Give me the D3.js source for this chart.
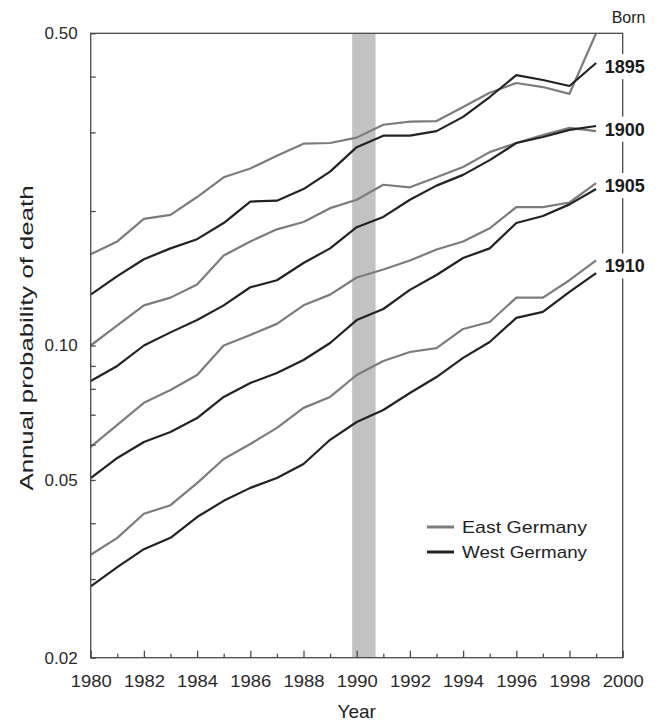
<!DOCTYPE html>
<html>
<head>
<meta charset="utf-8">
<script src="https://cdn.jsdelivr.net/npm/d3@7"></script>
<style>
  body { margin: 0; background: #fff; }
  svg { display: block; font-family: "Liberation Sans", Arial, sans-serif; }
</style>
</head>
<body>
<svg id="chart" width="664" height="724"></svg>
<script>

var years = [1980, 1981, 1982, 1983, 1984, 1985, 1986, 1987, 1988, 1989,
             1990, 1991, 1992, 1993, 1994, 1995, 1996, 1997, 1998, 1999];

// annual probability of death, by birth cohort
var east1895 = [0.160, 0.171, 0.192, 0.196, 0.215, 0.238, 0.249, 0.266, 0.283, 0.284,
                0.292, 0.312, 0.317, 0.318, 0.342, 0.368, 0.387, 0.379, 0.366, 0.500];
var west1895 = [0.130, 0.143, 0.156, 0.165, 0.173, 0.188, 0.210, 0.211, 0.224, 0.245,
                0.278, 0.295, 0.295, 0.302, 0.325, 0.360, 0.403, 0.393, 0.381, 0.429];
var east1900 = [0.100, 0.111, 0.123, 0.128, 0.137, 0.159, 0.171, 0.182, 0.189, 0.203,
                0.212, 0.229, 0.226, 0.238, 0.251, 0.271, 0.284, 0.296, 0.307, 0.302];
var west1900 = [0.0833, 0.090, 0.100, 0.107, 0.114, 0.123, 0.135, 0.140, 0.153, 0.165,
                0.184, 0.194, 0.212, 0.228, 0.241, 0.260, 0.284, 0.293, 0.304, 0.310];
var east1905 = [0.0593, 0.0664, 0.0744, 0.0795, 0.0859, 0.100, 0.1056, 0.1118, 0.123, 0.130,
                0.142, 0.148, 0.155, 0.164, 0.171, 0.183, 0.204, 0.204, 0.209, 0.231];
var west1905 = [0.0505, 0.0560, 0.0608, 0.0640, 0.0688, 0.0767, 0.0824, 0.0868, 0.0928, 0.1013,
                0.114, 0.1207, 0.1332, 0.1438, 0.157, 0.165, 0.188, 0.195, 0.207, 0.224];
var east1910 = [0.0340, 0.0371, 0.0420, 0.0439, 0.0492, 0.0557, 0.0602, 0.0654, 0.0725, 0.0767,
                0.0859, 0.0923, 0.0967, 0.0987, 0.1089, 0.1129, 0.128, 0.128, 0.140, 0.155];
var west1910 = [0.0289, 0.0319, 0.0350, 0.0371, 0.0413, 0.0449, 0.0480, 0.0505, 0.0543, 0.0615,
                0.0674, 0.0717, 0.0783, 0.0850, 0.0938, 0.1018, 0.1153, 0.1189, 0.1318, 0.1453];

var cohorts = ["1895", "1900", "1905", "1910"];
var cohortLabelAt = [0.421, 0.305, 0.228, 0.1507];

var yLabelled = [0.02, 0.05, 0.10, 0.50];
var yMinor = [0.03, 0.04, 0.06, 0.07, 0.08, 0.09, 0.2, 0.3, 0.4];
var xLabelled = [1980, 1982, 1984, 1986, 1988, 1990, 1992, 1994, 1996, 1998, 2000];
var xMinor = [1981, 1983, 1985, 1987, 1989, 1991, 1993, 1995, 1997, 1999];

var reunification = [1989.83, 1990.71];

var eastColor = "#7c7c7c";
var westColor = "#222222";

var svg = d3.select("#chart");
var margin = { top: 33.3, right: 41.3, bottom: 66.3, left: 90.7 };
var width = 664 - margin.left - margin.right;
var height = 724 - margin.top - margin.bottom;

var x = d3.scaleLinear().domain([1980, 2000]).range([0, width]);
var y = d3.scaleLog().domain([0.02, 0.5]).range([height, 0]);

var g = svg.append("g").attr("transform", "translate(" + margin.left + "," + margin.top + ")");

// 1990 band
g.append("rect")
  .attr("x", x(reunification[0]))
  .attr("width", x(reunification[1]) - x(reunification[0]))
  .attr("y", 0)
  .attr("height", height)
  .attr("fill", "#c2c2c2");

var line = d3.line()
  .x(function (d, i) { return x(years[i]); })
  .y(function (d) { return y(d); });

var series = [
  { v: east1895, c: eastColor }, { v: west1895, c: westColor },
  { v: east1900, c: eastColor }, { v: west1900, c: westColor },
  { v: east1905, c: eastColor }, { v: west1905, c: westColor },
  { v: east1910, c: eastColor }, { v: west1910, c: westColor }
];

g.selectAll("path.cohort")
  .data(series)
  .enter()
  .append("path")
  .attr("class", "cohort")
  .attr("d", function (d) { return line(d.v); })
  .attr("fill", "none")
  .attr("stroke", function (d) { return d.c; })
  .attr("stroke-width", 2.2)
  .attr("stroke-linejoin", "round");

// frame
g.append("rect")
  .attr("x", 0).attr("y", 0)
  .attr("width", width).attr("height", height)
  .attr("fill", "none")
  .attr("stroke", "#4a4a4a")
  .attr("stroke-width", 1.3);

// x axis
var xAxis = g.append("g")
  .attr("transform", "translate(0," + height + ")")
  .call(d3.axisBottom(x).tickValues(xLabelled).tickSize(-7).tickPadding(17).tickFormat(d3.format("d")));
g.append("g")
  .attr("transform", "translate(0," + height + ")")
  .call(d3.axisBottom(x).tickValues(xMinor).tickSize(-4).tickFormat(""));

// y axis
var yAxis = g.append("g")
  .call(d3.axisLeft(y).tickValues(yLabelled).tickSize(-5).tickPadding(13).tickFormat(d3.format(".2f")));
g.append("g")
  .call(d3.axisLeft(y).tickValues(yMinor).tickSize(-5).tickFormat(""));

g.selectAll(".domain").remove();
g.selectAll(".tick line").attr("stroke", "#4a4a4a").attr("stroke-width", 1.3);
g.selectAll(".tick text")
  .attr("fill", "#2a2a2a")
  .style("font-size", "17px")
  .style("font-family", "'Liberation Sans', Arial, sans-serif");
xAxis.selectAll(".tick text")
  .attr("textLength", 41)
  .attr("lengthAdjust", "spacingAndGlyphs");

// cohort labels on the right, with white backing over the frame
var lab = g.selectAll("g.clabel")
  .data(cohorts)
  .enter()
  .append("g")
  .attr("class", "clabel")
  .attr("transform", function (d, i) { return "translate(" + (width - 18) + "," + y(cohortLabelAt[i]) + ")"; });
lab.append("rect")
  .attr("x", 0).attr("y", -12.5)
  .attr("width", 46).attr("height", 25)
  .attr("fill", "#fff");
lab.append("text")
  .attr("x", 0)
  .attr("dy", "0.36em")
  .attr("font-weight", "bold")
  .attr("font-size", 18)
  .attr("fill", "#1a1a1a")
  .text(function (d) { return d; });

g.append("text")
  .attr("x", width - 11)
  .attr("y", -10)
  .attr("font-size", 16)
  .attr("fill", "#222")
  .text("Born");

// legend
var legend = g.append("g").attr("transform", "translate(" + (427 - margin.left) + "," + (527 - margin.top) + ")");
var legendItems = [{ name: "East Germany", c: eastColor }, { name: "West Germany", c: westColor }];
legendItems.forEach(function (d, i) {
  legend.append("line")
    .attr("x1", 0).attr("x2", 27)
    .attr("y1", i * 25).attr("y2", i * 25)
    .attr("stroke", d.c)
    .attr("stroke-width", 3);
  legend.append("text")
    .attr("x", 35)
    .attr("y", i * 25)
    .attr("dy", "0.36em")
    .attr("font-size", 17)
    .attr("fill", "#222")
    .attr("textLength", 125)
    .attr("lengthAdjust", "spacingAndGlyphs")
    .text(d.name);
});

// axis titles
svg.append("text")
  .attr("x", margin.left + width / 2)
  .attr("y", 718)
  .attr("text-anchor", "middle")
  .attr("font-size", 19)
  .attr("fill", "#222")
  .text("Year");

svg.append("text")
  .attr("transform", "translate(33,338) rotate(-90)")
  .attr("text-anchor", "middle")
  .attr("font-size", 19)
  .attr("fill", "#222")
  .attr("textLength", 305)
  .attr("lengthAdjust", "spacingAndGlyphs")
  .text("Annual  probability of death");

</script>
</body>
</html>
